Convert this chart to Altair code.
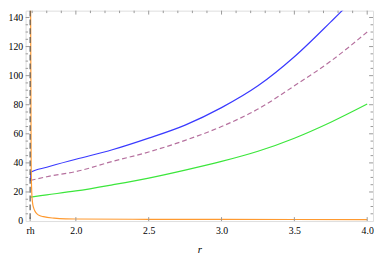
import altair as alt
import pandas as pd

rh = 1.686

# main curves
r_main = [1.688, 1.690, 1.8, 2.0, 2.25, 2.5, 2.75, 3.0, 3.25, 3.5, 3.75, 3.88, 4.0]
blue_v = [27.5, 33.5, 37.0, 42.5, 49.0, 57.0, 66.0, 78.0, 93.0, 113.0, 137.0, 150.0, 163.0]

r_dash = [1.690, 1.8, 2.0, 2.25, 2.5, 2.75, 3.0, 3.25, 3.5, 3.75, 4.0]
purple_v = [28.0, 30.5, 34.0, 41.0, 47.5, 55.5, 65.0, 77.0, 93.0, 110.0, 130.0]

r_green = [1.690, 1.8, 2.0, 2.25, 2.5, 2.75, 3.0, 3.25, 3.5, 3.75, 4.0]
green_v = [16.5, 18.0, 20.7, 24.9, 29.5, 35.0, 41.0, 48.0, 57.0, 68.0, 80.5]

r_orange = [1.689, 1.693, 1.697, 1.702, 1.71, 1.722, 1.735, 1.75, 1.778, 1.85, 1.93, 2.0, 2.5, 3.0, 3.5, 4.0]
orange_v = [160.0, 40.0, 20.0, 13.0, 9.0, 6.3, 4.8, 3.8, 3.0, 2.0, 1.5, 1.4, 1.2, 1.1, 1.05, 1.0]

x_label_values = [rh, 2.0, 2.5, 3.0, 3.5, 4.0]
y_label_values = [0, 20, 40, 60, 80, 100, 120, 140]
x_major_top = [2.0, 2.5, 3.0, 3.5, 4.0]
x_minor_top = [1.7, 1.8, 1.9, 2.1, 2.2, 2.3, 2.4, 2.6, 2.7, 2.8, 2.9,
               3.1, 3.2, 3.3, 3.4, 3.6, 3.7, 3.8, 3.9]
y_major = [20, 40, 60, 80, 100, 120, 140]
y_minor = [5, 10, 15, 25, 30, 35, 45, 50, 55, 65, 70, 75, 85, 90, 95,
           105, 110, 115, 125, 130, 135]

W, H = 355, 215
FONT = "'Liberation Serif', 'Times New Roman', serif"

xs = alt.Scale(domain=[1.655, 4.04], nice=False, zero=False)
ys = alt.Scale(domain=[0, 144.7], nice=False, zero=False)

xaxis = alt.Axis(values=x_label_values,
                 labelExpr="datum.value < 1.9 ? 'rh' : format(datum.value, '.1f')",
                 ticks=False, domain=False, grid=False, title="r",
                 titleFontStyle="italic", titleFont=FONT, titleFontWeight="normal",
                 titleFontSize=11, titlePadding=8, labelFont=FONT, labelFontSize=10,
                 labelPadding=5, labelColor="black", titleColor="black",
                 labelFlush=False, labelOverlap=False)
yaxis = alt.Axis(values=y_label_values, format="d", ticks=False, domain=False,
                 grid=False, title=None, labelFont=FONT, labelFontSize=10,
                 labelPadding=3, labelColor="black", labelFlush=False,
                 labelOverlap=False)


def X(field="r"):
    return alt.X(f"{field}:Q", scale=xs, axis=xaxis, title="r")


def Y(field="v"):
    return alt.Y(f"{field}:Q", scale=ys, axis=yaxis, title=None)


def line_layer(rv, vv, color, dash=None):
    df = pd.DataFrame({"r": rv, "v": vv})
    kw = dict(color=color, strokeWidth=1.2, clip=True, interpolate="monotone")
    if dash:
        kw["strokeDash"] = dash
    return alt.Chart(df).mark_line(**kw).encode(x=X(), y=Y())


blue = line_layer(r_main, blue_v, "#3a3aff")
purple = line_layer(r_dash, purple_v, "#b5709e", dash=[5, 3])
green = line_layer(r_green, green_v, "#3ce63c")
orange = line_layer(r_orange, orange_v, "#ff9a30")

rh_rule = alt.Chart(pd.DataFrame({"r": [rh]})).mark_rule(
    color="#555555", strokeDash=[6, 3], strokeWidth=1.2
).encode(x=X())

TC = "#999999"


def vticks(vals, y0, y1):
    return alt.Chart(pd.DataFrame({"r": vals})).mark_rule(color=TC, strokeWidth=1).encode(
        x=X(), y=alt.value(y0), y2=alt.value(y1))


def hticks(vals, x0, x1):
    return alt.Chart(pd.DataFrame({"v": vals})).mark_rule(color=TC, strokeWidth=1).encode(
        y=Y(), x=alt.value(x0), x2=alt.value(x1))


ticks = [
    vticks(x_label_values, H, H - 4),
    vticks(x_major_top, 0, 4),
    vticks(x_minor_top, 0, 2.5),
    hticks(y_major, 0, 4),
    hticks(y_minor, 0, 2.5),
    hticks(y_major, W, W - 4),
    hticks(y_minor, W, W - 2.5),
]

chart = alt.layer(blue, purple, green, orange, *ticks, rh_rule).properties(
    width=W, height=H,
    autosize=alt.AutoSizeParams(type="none"),
    padding={"left": 18, "top": 0, "right": 1, "bottom": 33},
).configure_view(stroke=TC, strokeWidth=1).configure(
    background="white", font=FONT
).configure_axis(labelFont=FONT, titleFont=FONT)

chart.save("out.html", embed_options={"renderer": "svg", "actions": False})
